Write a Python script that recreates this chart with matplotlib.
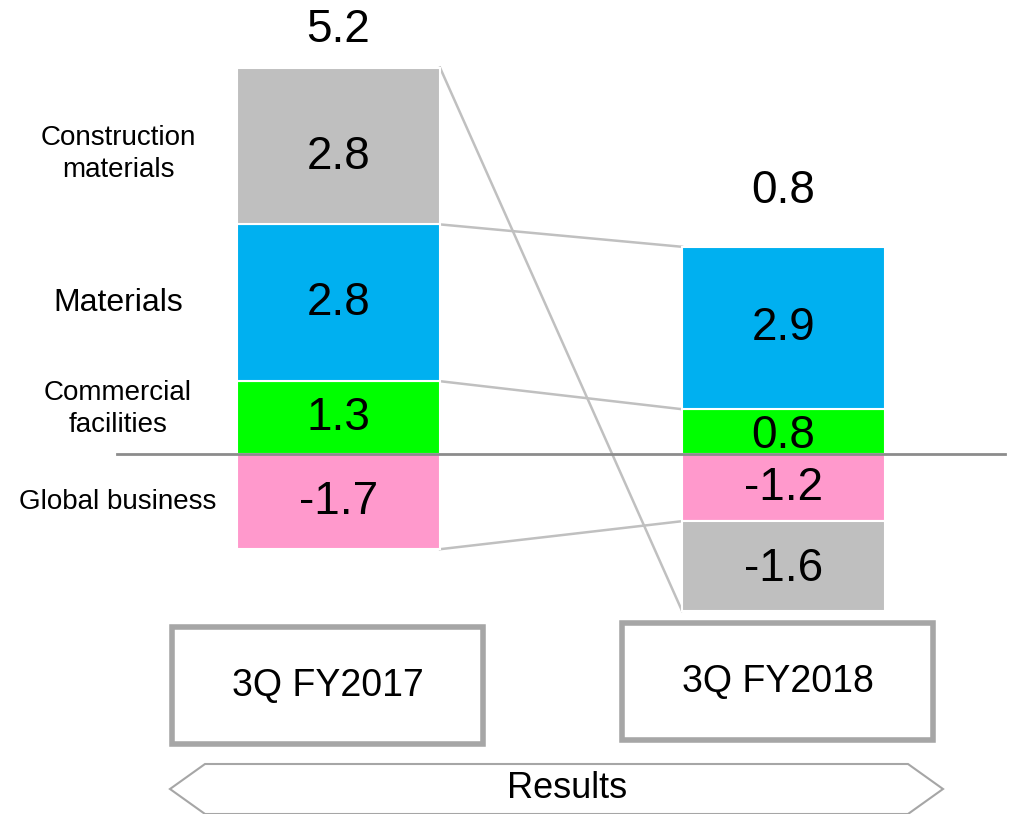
import matplotlib.pyplot as plt
from matplotlib.patches import Rectangle, Polygon

plt.rcParams['font.family'] = ['Liberation Sans', 'DejaVu Sans']

# data
periods = ["3Q FY2017", "3Q FY2018"]
segments = ["Global business", "Commercial\nfacilities", "Materials", "Construction\nmaterials"]
values_2017 = [-1.7, 1.3, 2.8, 2.8]
values_2018 = [-1.2, 0.8, 2.9, -1.6]
totals = [5.2, 0.8]
colors = ["#ff99cc", "#00ff00", "#00b0f0", "#bfbfbf"]

fig = plt.figure(figsize=(10.09, 8.14), dpi=100)

# overlay in pixel coords for the boxes and the arrow
deco = fig.add_axes([0, 0, 1, 1])
deco.set_xlim(0, 1009)
deco.set_ylim(814, 0)
deco.axis('off')

ax = fig.add_axes([0, 0, 1, 1])
ax.set_xlim(-0.761, 1.507)
ax.set_ylim(-6.4286, 8.107)
ax.axis('off')
ax.patch.set_alpha(0)

width = 0.456


def stack(vals):
    pos, neg = 0.0, 0.0
    bottoms, ends = [], []
    for v in vals:
        if v >= 0:
            bottoms.append(pos)
            pos += v
        else:
            bottoms.append(neg)
            neg += v
        ends.append(bottoms[-1] + v)
    return bottoms, ends, pos


# small vertical tweaks of the value labels
label_nudge = [[0, 0, 0, -0.2], [0, -0.08, 0, -0.05]]

ends_all = []
tops = []
for i, vals in enumerate([values_2017, values_2018]):
    bottoms, ends, top = stack(vals)
    ends_all.append(ends)
    tops.append(top)
    ax.bar([i] * len(vals), vals, bottom=bottoms, width=width, color=colors,
           edgecolor='white', linewidth=1.5, zorder=2)
    for v, b, n in zip(vals, bottoms, label_nudge[i]):
        ax.text(i, b + v / 2 + n, f"{v:.1f}", ha='center', va='center', fontsize=33, zorder=4)

# total labels above the bars
offsets = [0.67, 1.0]
for i, t in enumerate(totals):
    ax.text(i, tops[i] + offsets[i], f"{t:.1f}", ha='center', va='center', fontsize=33)

# connector lines between matching segments
for e0, e1 in zip(ends_all[0], ends_all[1]):
    ax.plot([width / 2, 1 - width / 2], [e0, e1], color='#c0c0c0', lw=1.8, zorder=1)

# zero line
ax.plot([-0.498, 1.498], [0, 0], color='#8c8c8c', lw=2, zorder=3)

# segment names on the left
b0, _, _ = stack(values_2017)
nudges = [0, 0.15, 0, -0.15]
sizes = [20, 20, 23, 20]
for name, v, b, n, fs in zip(segments, values_2017, b0, nudges, sizes):
    ax.text(-0.4955, b + v / 2 + n, name, ha='center', va='center', fontsize=fs,
            linespacing=1.3)

# period boxes
boxes = [(172, 627), (622, 623)]
for (bx, by), label in zip(boxes, periods):
    deco.add_patch(Rectangle((bx, by), 311, 117, fill=False, edgecolor='#a6a6a6', lw=4))
    deco.text(bx + 155.5, by + 59, label, ha='center', va='center', fontsize=27)

# arrow shape at the bottom
arrow = Polygon([(170, 789), (205, 764), (908, 764), (943, 789), (908, 814), (205, 814)],
                closed=True, fill=False, edgecolor='#a6a6a6', lw=1.5)
deco.add_patch(arrow)
deco.text(567, 789, "Results", ha='center', va='center', fontsize=26)

fig.savefig('out.png', dpi=100)
